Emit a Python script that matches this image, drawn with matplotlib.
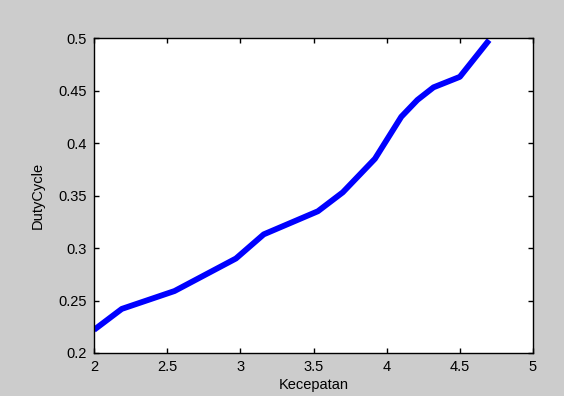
import matplotlib
matplotlib.use("Agg")
import matplotlib.pyplot as plt

# Kecepatan vs DutyCycle
kecepatan = [2.0, 2.19, 2.55, 2.97, 3.16, 3.53, 3.70, 3.92, 4.10, 4.21, 4.32, 4.50, 4.70]
duty_cycle = [0.222, 0.242, 0.259, 0.290, 0.313, 0.335, 0.353, 0.385, 0.425, 0.441, 0.453, 0.463, 0.498]

plt.rcParams['font.family'] = ['Liberation Sans', 'DejaVu Sans']

fig = plt.figure(figsize=(5.64, 3.96), dpi=100, facecolor='#cccccc')
ax = fig.add_axes([94/564, 43/396, 439/564, 315/396])
ax.set_facecolor('white')

ax.plot(kecepatan, duty_cycle, color='#0000ff', lw=4.2, solid_capstyle='butt')

ax.set_xlim(2, 5)
ax.set_ylim(0.2, 0.5)
ax.set_xticks([2, 2.5, 3, 3.5, 4, 4.5, 5])
ax.set_xticklabels(['2', '2.5', '3', '3.5', '4', '4.5', '5'])
ax.set_yticks([0.2, 0.25, 0.3, 0.35, 0.4, 0.45, 0.5])
ax.set_yticklabels(['0.2', '0.25', '0.3', '0.35', '0.4', '0.45', '0.5'])
ax.tick_params(direction='in', length=3.5, width=1, top=True, right=True,
               labelsize=10.5, colors='black', pad=5)
for s in ax.spines.values():
    s.set_linewidth(1.0)
    s.set_color('black')

ax.set_xlabel('Kecepatan', fontsize=10.5, labelpad=3)
ax.set_ylabel('DutyCycle', fontsize=10.5, labelpad=10)

fig.savefig('out.png', dpi=100, facecolor=fig.get_facecolor())
